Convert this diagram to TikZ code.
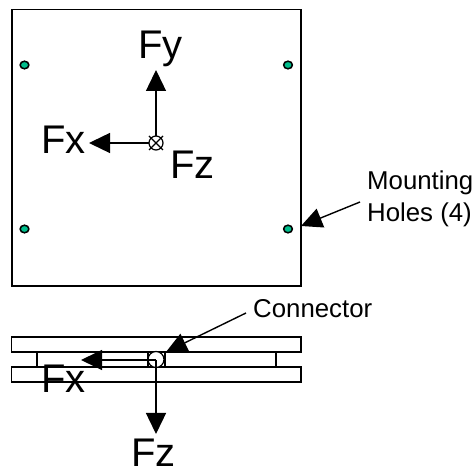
\documentclass[tikz,border=0pt]{standalone}
\usepackage{fontspec}
\setmainfont{Liberation Sans}
\usetikzlibrary{arrows.meta}
\definecolor{holegreen}{RGB}{0,190,140}
\tikzset{
  x=1pt,y=-1pt,
  outline/.style={draw=black,line width=1.4pt,fill=white},
  hole/.style={draw=black,line width=1.5pt,fill=holegreen},
  bigarrow/.style={draw=black,line width=1.4pt,-{Triangle[length=21pt,width=20pt]},shorten >=0pt},
  biglabel/.style={inner sep=0pt,anchor=base west,font=\fontsize{40}{40}\selectfont},
  smalllabel/.style={inner sep=0pt,anchor=base west,font=\fontsize{25.8}{30}\selectfont},
}
\begin{document}
\begin{tikzpicture}
\useasboundingbox (0,0) rectangle (475,470);
% top view
\draw[outline] (12,9.5) rectangle (301,286);
\foreach \n/\hx/\hy in {a/24.5/65,b/288/65,c/24.5/229,d/288/229}
  \draw[hole] (\hx,\hy) ellipse (4.4pt and 3.8pt);
\coordinate (centre) at (156,143);
\coordinate (fytip) at (156,70);
\coordinate (fxtip) at (89,143);
\coordinate (mtip) at (301,226);
\coordinate (mtail) at (360,202);
\draw[bigarrow] (centre) -- (fytip);
\draw[bigarrow] (centre) -- (fxtip);
\draw[draw=black,line width=1.2pt,fill=white] (centre) circle (7pt);
\draw[black,line width=1.2pt] (149,136) -- (163,150) (149,150) -- (163,136);
\node[biglabel] (fy) at (138,59) {Fy};
\node[biglabel] (fx) at (41,154) {Fx};
\node[biglabel] (fz) at (170,179) {Fz};
\node[smalllabel] (mount) at (367,190) {Mounting};
\node[smalllabel] (holes) at (367,222) {Holes (4)};
\draw[bigarrow] (mtail) -- (mtip);
% side view
\draw[outline] (11.5,337) rectangle (301,352);
\draw[outline] (11.5,367) rectangle (301,382);
\draw[outline] (37,352) rectangle (276,367);
\draw[outline] (148,352) rectangle (165,367);
\draw[draw=black,line width=1.2pt,fill=white] (156,359.5) circle (8pt);
\coordinate (scentre) at (156,360);
\coordinate (sfxtip) at (81,360);
\coordinate (sfztip) at (156,434);
\coordinate (ctip) at (166,352);
\coordinate (ctail) at (246,313);
\draw[bigarrow] (scentre) -- (sfxtip);
\draw[bigarrow] (scentre) -- (sfztip);
\draw[bigarrow] (ctail) -- (ctip);
\node[biglabel] (sfx) at (41,393) {Fx};
\node[biglabel] (sfz) at (131,467) {Fz};
\node[smalllabel] (conn) at (253,318) {Connector};
\end{tikzpicture}
\end{document}
